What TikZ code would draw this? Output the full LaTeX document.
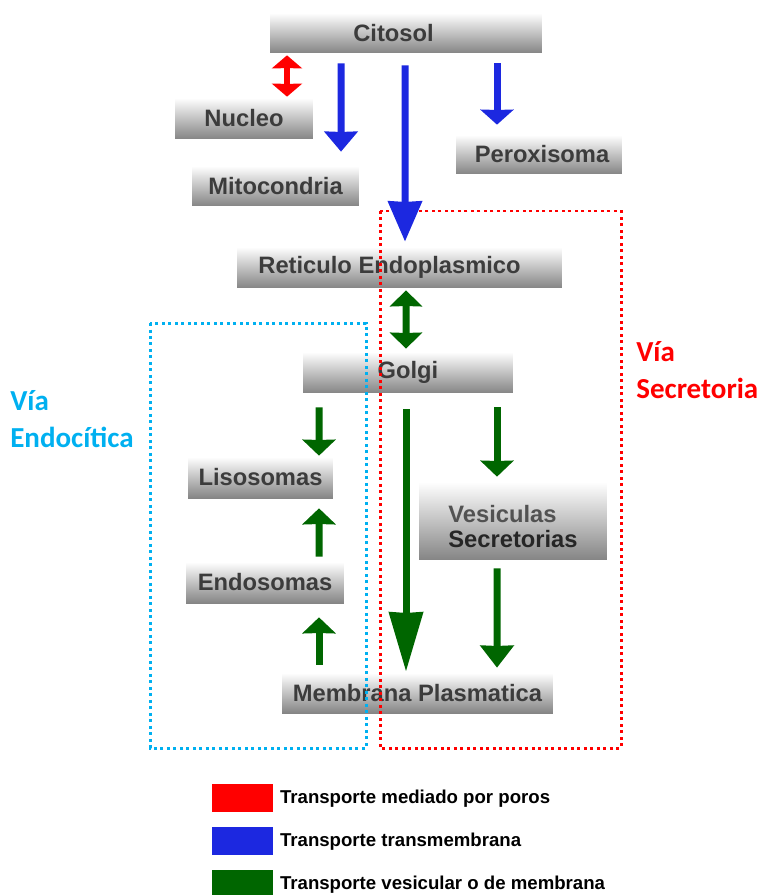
\documentclass[tikz,border=0pt]{standalone}
\usepackage{fontspec}
\setmainfont{Liberation Sans}
\newfontfamily\calibfont{Carlito}
\usetikzlibrary{arrows.meta, calc}

\definecolor{poroRed}{RGB}{255,0,0}
\definecolor{transBlue}{RGB}{28,40,224}
\definecolor{vesGreen}{RGB}{0,102,0}
\definecolor{endoCyan}{RGB}{0,176,240}
\definecolor{boxText}{RGB}{60,60,60}

\begin{document}
\begin{tikzpicture}[
    x=0.02cm, y=-0.02cm,
    every node/.style={align=center},
    organelle/.style={shade, top color=white, bottom color=black!48, minimum height=0.8cm,
        inner sep=0pt, font=\fontsize{13.5}{16}\selectfont\bfseries, text=boxText},
    redarrow/.style={draw=poroRed, line width=0.11cm, {Stealth[width=0.6cm,length=0.26cm,inset'=0.15]}-{Stealth[width=0.6cm,length=0.26cm,inset'=0.15]}},
    bluearrow/.style={draw=transBlue, line width=0.14cm, -{Stealth[width=0.66cm,length=#1,inset'=0.18]}},
    bluearrow/.default=0.4cm,
    greenarrow/.style={draw=vesGreen, line width=0.14cm, -{Stealth[width=0.66cm,length=#1,inset'=0.18]}},
    greenarrow/.default=0.32cm,
    greendouble/.style={draw=vesGreen, line width=0.14cm, {Stealth[width=0.64cm,length=0.32cm,inset'=0.18]}-{Stealth[width=0.64cm,length=0.32cm,inset'=0.18]}},
    pathway/.style={line width=0.06cm, dash pattern=on 0.06cm off 0.07cm},
    legendbox/.style={minimum width=1.22cm, minimum height=0.56cm, inner sep=0pt, anchor=north west},
    legendtext/.style={anchor=west, font=\fontsize{10.6}{12}\selectfont\bfseries, inner sep=0pt}
]
    \useasboundingbox (0,0) rectangle (763,895);

    % Organelles
    \node[organelle, minimum width=5.44cm] (citosol) at (406,33) {Citosol\hspace{0.5cm}};
    \node[organelle, minimum width=2.76cm, minimum height=0.82cm] (nucleo) at (244,118.5) {Nucleo};
    \node[organelle, minimum width=3.34cm] (mito) at (275.5,186) {Mitocondria};
    \node[organelle, minimum width=3.32cm, minimum height=0.78cm] (perox) at (539,154.5) {\hspace{0.12cm}Peroxisoma};
    \node[organelle, minimum width=6.5cm, minimum height=0.82cm] (er) at (399.5,267.5) {Reticulo Endoplasmico\hspace{0.4cm}};
    \node[organelle, minimum width=4.2cm, minimum height=0.82cm] (golgi) at (408,372.5) {Golgi};
    \node[organelle, minimum width=2.9cm, minimum height=0.82cm] (liso) at (260.5,477.5) {Lisosomas};
    \node[organelle, minimum width=3.16cm, minimum height=0.82cm] (endo) at (265,582.5) {Endosomas};
    \node[organelle, minimum width=3.76cm, minimum height=1.56cm, font=\fontsize{13.5}{14}\selectfont\bfseries] (vesic) at (513,521)
        {\raisebox{-0.18cm}[\height][\depth]{\begin{tabular}{@{}l@{}}\textcolor{black!68}{Vesiculas}\\\textcolor{black!85}{Secretorias}\end{tabular}}};
    \node[organelle, minimum width=5.42cm] (membrana) at (417.5,693) {Membrana Plasmatica};

    % Pathway frames
    \draw[pathway, draw=endoCyan] (150,323) rectangle (366,748);
    \draw[pathway, draw=poroRed] (380,211) rectangle (621,748);
    \node[anchor=west, align=left, text=endoCyan, inner sep=0pt,
        font=\calibfont\fontsize{16.5}{21}\selectfont\bfseries] (endolabel) at (10,419) {Vía\\Endocítica};
    \node[anchor=west, align=left, text=poroRed, inner sep=0pt,
        font=\calibfont\fontsize{16.5}{21}\selectfont\bfseries] (secrlabel) at (636,370) {Vía\\Secretoria};

    % Transporte mediado por poros
    \draw[redarrow] ($(citosol.south)+(-119,2)$) -- ($(nucleo.north)+(43,-1)$);

    % Transporte transmembrana
    \draw[bluearrow] ($(citosol.south)+(-65,10)$) -- ($(mito.north)+(65.5,-14)$);
    \draw[bluearrow=0.8cm] ($(citosol.south)+(-1,12)$) -- ($(er.north)+(5.5,-5)$);
    \draw[bluearrow=0.3cm] ($(citosol.south)+(91,10)$) -- ($(perox.north)+(-42,-10)$);

    % Transporte vesicular
    \draw[greendouble] ($(er.south)+(6.5,2)$) -- ($(golgi.north)+(-2,-3)$);
    \draw[greenarrow] ($(golgi.south)+(-89,14)$) -- ($(liso.north)+(58.5,-1)$);
    \draw[greenarrow] ($(endo.north)+(54,-5)$) -- ($(liso.south)+(58.5,10)$);
    \draw[greenarrow] ($(membrana.north)+(-98.5,-8)$) -- ($(endo.south)+(54,14)$);
    \draw[greenarrow=1.18cm] ($(golgi.south)+(-2,16)$) -- ($(membrana.north)+(-11.5,-1)$);
    \draw[greenarrow] ($(golgi.south)+(89,14)$) -- ($(vesic.north)+(-16,-5)$);
    \draw[greenarrow=0.44cm] ($(vesic.south)+(-16,8)$) -- ($(membrana.north)+(79.5,-5)$);

    % Legend
    \node[legendbox, fill=poroRed] (legred) at (212,784) {};
    \node[legendbox, fill=transBlue] (legblue) at (212,827) {};
    \node[legendbox, fill=vesGreen] (leggreen) at (212,870) {};
    \node[legendtext] at ($(legred.east)+(6,0)$) {Transporte mediado por poros};
    \node[legendtext] at ($(legblue.east)+(6,0)$) {Transporte transmembrana};
    \node[legendtext] at ($(leggreen.east)+(6,0)$) {Transporte vesicular o de membrana};

\end{tikzpicture}
\end{document}
